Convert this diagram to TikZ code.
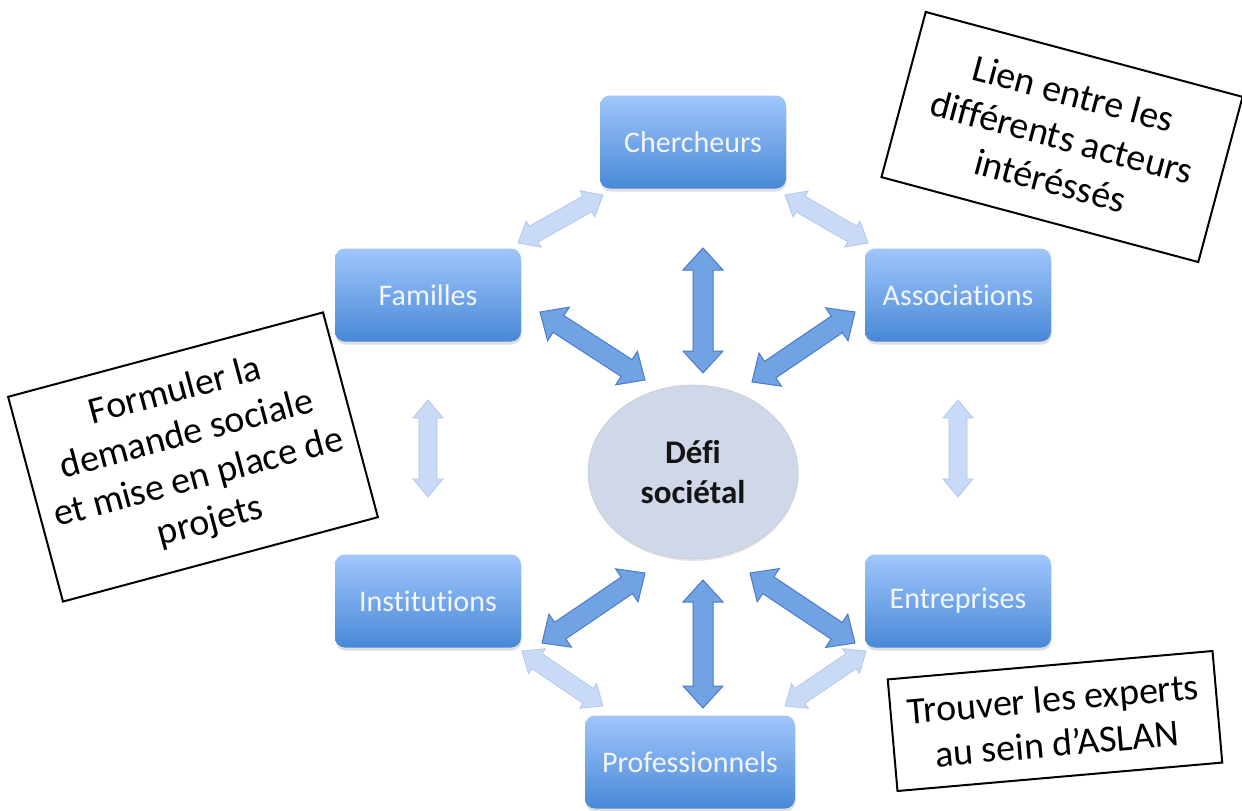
\documentclass[tikz,border=0pt]{standalone}
\usepackage{fontspec}
\setmainfont{Carlito}[Ligatures={NoCommon}]
\usetikzlibrary{calc,shapes.geometric,shadows}
\definecolor{boxtop}{RGB}{160,198,252}
\definecolor{boxbot}{RGB}{72,136,214}
\definecolor{boxtxt}{RGB}{242,246,255}
\definecolor{ellfill}{RGB}{208,215,232}
\definecolor{darkfill}{RGB}{112,162,228}
\definecolor{darkedge}{RGB}{74,124,200}
\definecolor{lightfill}{RGB}{200,218,246}
\definecolor{lightedge}{RGB}{178,200,236}
\tikzset{
  actor/.style={rectangle, rounded corners=10pt, minimum width=186pt, minimum height=93pt,
    top color=boxtop, bottom color=boxbot, draw=none, text=boxtxt,
    font=\fontsize{30}{36}\selectfont,
    drop shadow={shadow xshift=0.5pt, shadow yshift=-3pt, opacity=0.25}},
  centre/.style={ellipse, minimum width=210pt, minimum height=174pt, fill=ellfill,
    draw=ellfill!85!gray, line width=0.6pt, align=center,
    font=\bfseries\fontsize{33}{40}\selectfont, text={rgb,255:red,20;green,20;blue,20},
    drop shadow={shadow xshift=0.5pt, shadow yshift=-2pt, opacity=0.2}},
  note/.style={rectangle, draw=black, line width=2pt, fill=white, align=center,
    font=\fontsize{38}{45}\selectfont, inner sep=0pt},
  darkarr/.style={fill=darkfill, draw=darkedge, line width=1pt, line join=miter},
  lightarr/.style={fill=lightfill, draw=lightedge, line width=0.8pt, line join=miter}
}
\newcommand\fatarrow[3]{%
  \filldraw[#1] (#2)
   -- ($(#2)!\ah!(#3)!\aH!90:(#3)$) -- ($(#2)!\ah!(#3)!\aw!90:(#3)$)
   -- ($(#3)!\ah!(#2)!\aw!-90:(#2)$) -- ($(#3)!\ah!(#2)!\aH!-90:(#2)$)
   -- (#3)
   -- ($(#3)!\ah!(#2)!\aH!90:(#2)$) -- ($(#3)!\ah!(#2)!\aw!90:(#2)$)
   -- ($(#2)!\ah!(#3)!\aw!-90:(#3)$) -- ($(#2)!\ah!(#3)!\aH!-90:(#3)$)
   -- cycle;}
\begin{document}
\begin{tikzpicture}[x=1pt,y=-1pt]
\useasboundingbox (0,0) rectangle (1242,811);
\fill[white] (0,0) rectangle (1242,811);

% actors
\node[actor] (cher) at (693,142) {Chercheurs};
\node[actor] (fam)  at (428,295) {Familles};
\node[actor] (asso) at (958,295) {Associations};
\node[actor] (inst) at (428,601) {Institutions};
\node[actor] (entr) at (958,601) {Entreprises};
\node[actor, minimum width=210pt] (pro) at (690,762) {Professionnels};
\node[centre] (defi) at (693,472) {Défi\\sociétal};

% arrow end points
\coordinate (cf1) at (603,195);  \coordinate (cf2) at (518,243);
\coordinate (ca1) at (785,195);  \coordinate (ca2) at (868,243);
\coordinate (fi1) at (428,400);  \coordinate (fi2) at (428,497);
\coordinate (ae1) at (958,400);  \coordinate (ae2) at (958,497);
\coordinate (ip1) at (522,651);  \coordinate (ip2) at (603,706);
\coordinate (ep1) at (866,651);  \coordinate (ep2) at (785,706);

\coordinate (dF1) at (540,312);  \coordinate (dF2) at (645,380);
\coordinate (dC1) at (703,248);  \coordinate (dC2) at (703,373);
\coordinate (dA1) at (855,312);  \coordinate (dA2) at (752,382);
\coordinate (dI1) at (542,643);  \coordinate (dI2) at (645,573);
\coordinate (dP1) at (703,580);  \coordinate (dP2) at (703,708);
\coordinate (dE1) at (855,643);  \coordinate (dE2) at (750,573);

% light arrows between actors
\def\ah{18pt}\def\aH{15pt}\def\aw{9pt}
\fatarrow{lightarr}{cf1}{cf2}
\fatarrow{lightarr}{ca1}{ca2}
\fatarrow{lightarr}{fi1}{fi2}
\fatarrow{lightarr}{ae1}{ae2}
\fatarrow{lightarr}{ip1}{ip2}
\fatarrow{lightarr}{ep1}{ep2}

% dark arrows to the centre
\def\ah{22pt}\def\aH{20pt}\def\aw{10pt}
\fatarrow{darkarr}{dF1}{dF2}
\fatarrow{darkarr}{dC1}{dC2}
\fatarrow{darkarr}{dA1}{dA2}
\fatarrow{darkarr}{dI1}{dI2}
\fatarrow{darkarr}{dP1}{dP2}
\fatarrow{darkarr}{dE1}{dE2}

% notes
\node[note, rotate=-15, minimum width=328pt, minimum height=171pt] (lien) at (1062,137)
  {Lien entre les\\différents acteurs\\intéréssés};
\node[note, rotate=15, minimum width=326pt, minimum height=212pt] (form) at (193,457)
  {Formuler la\\demande sociale\\et mise en place de\\projets};
\node[note, rotate=5, minimum width=326pt, minimum height=112pt] (trouv) at (1055,721)
  {Trouver les experts\\au sein d’ASLAN};
\end{tikzpicture}
\end{document}
